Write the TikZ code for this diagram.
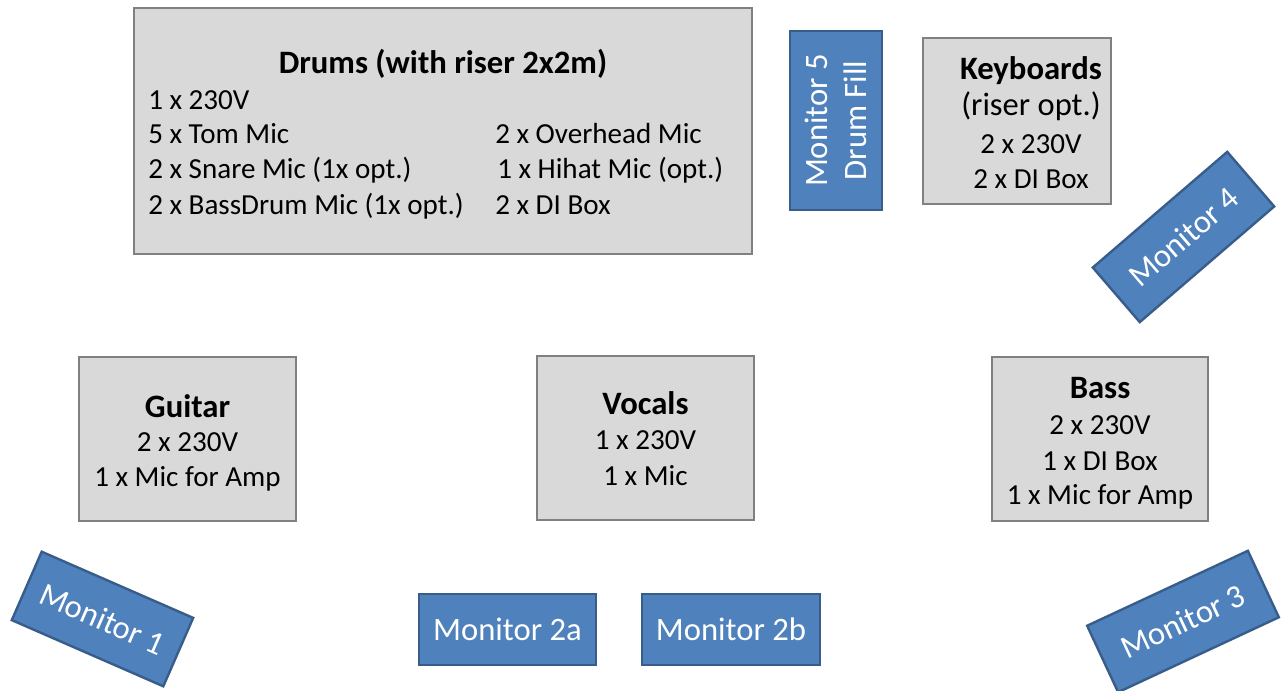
\documentclass[tikz,border=0pt]{standalone}
\usepackage{fontspec}
\setmainfont{Carlito}
\definecolor{boxfill}{HTML}{D9D9D9}
\definecolor{boxline}{HTML}{808080}
\definecolor{monfill}{HTML}{4F81BD}
\definecolor{monline}{HTML}{385D8A}
\tikzset{
  area/.style={draw=boxline, fill=boxfill, line width=1.8pt, inner sep=0pt},
  mon/.style={draw=monline, fill=monfill, line width=1.8pt, text=white, inner sep=0pt, align=center,
     font=\fontsize{24.5}{29}\selectfont},
  txt/.style={inner sep=0pt, font=\fontsize{21.8}{26}\selectfont},
  ttl/.style={inner sep=0pt, font=\fontsize{24.5}{28}\selectfont\bfseries},
}
\begin{document}
\begin{tikzpicture}[x=0.75pt,y=-0.75pt]
\useasboundingbox (0,0) rectangle (1285,691);
% areas
\node[area, minimum width=463.5pt, minimum height=184.5pt] (drums) at (443,131) {};
\node[area, minimum width=141pt, minimum height=124.5pt] (keys) at (1017,121) {};
\node[area, minimum width=162.75pt, minimum height=123pt] (guitar) at (187.5,439) {};
\node[area, minimum width=162.75pt, minimum height=123pt] (vocals) at (645.5,438) {};
\node[area, minimum width=162pt, minimum height=123pt] (bass) at (1100,439) {};
% drums text
\node[ttl, anchor=base] (dt) at (443,74) {Drums (with riser 2x2m)};
\node[txt, anchor=base west] (d1) at (148,110) {1 x 230V};
\node[txt, anchor=base west] (d2) at (148,144) {5 x Tom Mic};
\node[txt, anchor=base west] (d3) at (148,179) {2 x Snare Mic (1x opt.)};
\node[txt, anchor=base west] (d4) at (148,215) {2 x BassDrum Mic (1x opt.)};
\node[txt, anchor=base west] (d5) at (495,144) {2 x Overhead Mic};
\node[txt, anchor=base west] (d6) at (497,179) {1 x Hihat Mic (opt.)};
\node[txt, anchor=base west] (d7) at (495,215) {2 x DI Box};
% keyboards text
\node[ttl, anchor=base] (kt) at (1031,80) {Keyboards};
\node[txt, anchor=base, font=\fontsize{24.4}{28}\selectfont] (k1) at (1031,116) {(riser opt.)};
\node[txt, anchor=base] (k2) at (1031,154) {2 x 230V};
\node[txt, anchor=base] (k3) at (1031,189) {2 x DI Box};
% guitar text
\node[ttl, anchor=base] (gt) at (187.5,417) {Guitar};
\node[txt, anchor=base] (g1) at (187.5,451) {2 x 230V};
\node[txt, anchor=base] (g2) at (187.5,486) {1 x Mic for Amp};
% vocals text
\node[ttl, anchor=base] (vt) at (645.5,415) {Vocals};
\node[txt, anchor=base] (v1) at (645.5,450) {1 x 230V};
\node[txt, anchor=base] (v2) at (645.5,485) {1 x Mic};
% bass text
\node[ttl, anchor=base] (bt) at (1100,399) {Bass};
\node[txt, anchor=base] (b1) at (1100,435) {2 x 230V};
\node[txt, anchor=base] (b2) at (1100,470) {1 x DI Box};
\node[txt, anchor=base] (b3) at (1100,504) {1 x Mic for Amp};
% monitors
\node[mon, minimum width=134pt, minimum height=69pt, rotate=90] (m5) at (836,120.5) {Monitor 5\\Drum Fill};
\node[mon, minimum width=133pt, minimum height=54pt, rotate=40.7] (m4) at (1183.5,237) {Monitor 4};
\node[mon, minimum width=124pt, minimum height=56pt, rotate=-23.6] (m1) at (102.5,619) {Monitor 1};
\node[mon, minimum width=132.75pt, minimum height=53.25pt] (m2a) at (507.5,629.5) {Monitor 2a};
\node[mon, minimum width=133.5pt, minimum height=53.25pt] (m2b) at (731,629.5) {Monitor 2b};
\node[mon, minimum width=133pt, minimum height=55pt, rotate=25] (m3) at (1183,621.5) {Monitor 3};
\end{tikzpicture}
\end{document}
